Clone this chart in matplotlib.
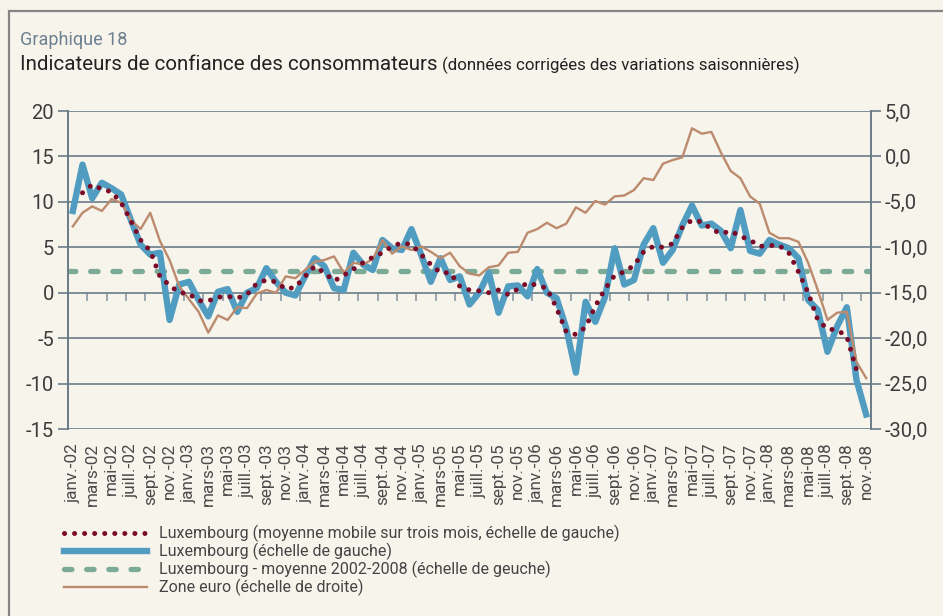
import numpy as np
import matplotlib
matplotlib.use("Agg")
import matplotlib.pyplot as plt
from matplotlib.patches import Rectangle

plt.rcParams['font.family'] = ['Roboto', 'DejaVu Sans']

# --- data -------------------------------------------------------------
mois = ['janv.', 'févr.', 'mars', 'avr.', 'mai', 'juin', 'juill.', 'août',
        'sept.', 'oct.', 'nov.', 'déc.']
annees = ['02', '03', '04', '05', '06', '07', '08']
dates = [f'{m}-{a}' for a in annees for m in mois][:83]

# Luxembourg, échelle de gauche
lux = [9.0, 14.1, 10.4, 12.1, 11.5, 10.8, 8.0, 5.3, 4.2, 4.4,
       -3.0, 0.9, 1.2, -0.8, -2.6, 0.1, 0.4, -2.1, 0.0, 0.5,
       2.7, 1.2, 0.0, -0.3, 1.8, 3.8, 2.9, 0.5, 0.3, 4.4,
       3.1, 2.5, 5.8, 4.9, 4.7, 7.0, 4.2, 1.2, 3.8, 1.4,
       1.8, -1.3, 0.0, 2.2, -2.2, 0.7, 0.8, -0.4, 2.6, 0.0,
       -0.6, -3.9, -8.8, -1.0, -3.2, -0.5, 4.9, 0.9, 1.4, 5.3,
       7.1, 3.3, 4.7, 7.4, 9.6, 7.4, 7.6, 6.8, 4.9, 9.1,
       4.6, 4.3, 5.8, 5.3, 4.9, 3.8, -0.8, -1.9, -6.5, -3.7,
       -1.6, -9.6, -13.4]

# Luxembourg, moyenne mobile sur trois mois
lux_mm = [np.nan, 11.0, 11.9, 11.4, 11.1, 9.9, 7.9, 5.8, 4.6, 1.8,
          0.8, 0.0, -0.1, -0.9, -0.9, -0.5, -0.4, -0.6, -0.2, 1.0,
          1.4, 1.2, 0.4, 0.6, 1.8, 2.9, 2.2, 1.3, 1.9, 2.6,
          3.3, 3.9, 4.4, 5.1, 5.5, 5.3, 4.2, 3.1, 2.2, 2.2,
          0.7, 0.3, 0.2, 0.0, 0.3, -0.2, 0.4, 1.1, 0.8, 0.5,
          -1.7, -4.3, -4.6, -3.8, -1.5, 0.4, 1.9, 2.3, 3.0, 4.5,
          5.1, 5.0, 5.4, 7.2, 8.0, 7.8, 7.0, 6.5, 6.8, 6.2,
          5.8, 5.1, 5.2, 5.2, 4.4, 2.3, 0.0, -3.0, -4.0, -4.1,
          -4.8, -8.5, np.nan]

lux_moy = 2.4  # moyenne 2002-2008

# Zone euro, échelle de droite
euro = [-7.7, -6.2, -5.5, -6.0, -4.7, -5.1, -7.0, -8.0, -6.2, -9.3,
        -11.4, -14.3, -15.7, -17.1, -19.4, -17.5, -18.0, -16.6, -16.7, -15.1,
        -14.7, -15.0, -13.2, -13.4, -12.5, -11.6, -11.4, -11.0, -12.8, -11.7,
        -11.9, -11.3, -9.2, -10.7, -9.9, -10.3, -9.9, -10.5, -11.2, -10.6,
        -12.1, -12.9, -13.1, -12.2, -12.0, -10.6, -10.5, -8.4, -8.0, -7.3,
        -7.9, -7.4, -5.6, -6.2, -4.9, -5.3, -4.4, -4.3, -3.7, -2.4,
        -2.6, -0.8, -0.4, -0.1, 3.1, 2.5, 2.7, 0.4, -1.6, -2.4,
        -4.4, -5.2, -8.4, -9.0, -9.0, -9.4, -11.7, -14.7, -18.0, -17.2,
        -17.1, -22.6, -24.4]

ticks_gauche = [-15, -10, -5, 0, 5, 10, 15, 20]
ticks_droite = [-30, -25, -20, -15, -10, -5, 0, 5]

labels = ['Luxembourg (moyenne mobile sur trois mois, échelle de gauche)',
          'Luxembourg (échelle de gauche)',
          'Luxembourg - moyenne 2002-2008 (échelle de geuche)',
          'Zone euro (échelle de droite)']

# --- style ------------------------------------------------------------
bg = '#F7F4EC'
gridc = '#6A7B88'
c_blue = '#519DC2'
c_red = '#7A0A28'
c_green = '#7BAA96'
c_brown = '#BC8B6E'
c_text = '#3C3C3C'

W, H = 943, 616
fig = plt.figure(figsize=(W / 100, H / 100), dpi=100, facecolor=bg)

fig.patches.append(Rectangle((9 / W, -0.1), 1.2, 1 - 11 / H + 0.1,
                             transform=fig.transFigure, fill=False,
                             ec='#858585', lw=1.6))

fig.text(20 / W, 1 - 45 / H, 'Graphique 18', color='#6D8191',
         fontsize=13, va='baseline')
t = fig.text(20 / W, 1 - 70 / H, 'Indicateurs de confiance des consommateurs',
             color='#222222', fontsize=14.8, va='baseline')
fig.canvas.draw()
bb = t.get_window_extent(fig.canvas.get_renderer())
fig.text((bb.x1 + 5) / W, 1 - 70 / H,
         '(données corrigées des variations saisonnières)',
         color='#222222', fontsize=12.2, va='baseline')

x = np.arange(len(lux))

ax = fig.add_axes([68 / W, 187 / H, 803 / W, 318 / H])
ax.set_facecolor(bg)
ax.set_xlim(-0.5, 82.5)
ax.set_ylim(-15, 20)
ax2 = ax.twinx()
ax2.set_ylim(-30, 5)

ax.yaxis.grid(True, color=gridc, lw=1.2)
ax.set_axisbelow(True)

l_moy = ax.axhline(lux_moy, color=c_green, lw=3.8, ls=(0, (1.4, 2.8)),
                   dash_capstyle='round', label=labels[2])
l_lux, = ax.plot(x, lux, color=c_blue, lw=4.6, solid_joinstyle='round',
                 label=labels[1])
l_euro, = ax2.plot(x, euro, color=c_brown, lw=1.7, label=labels[3])
l_mm, = ax2.plot(x, lux_mm, color=c_red, lw=3.6, ls=(0, (0.01, 2.0)),
                 dash_capstyle='round', transform=ax.transData,
                 label=labels[0])

# y axes
ax.set_yticks(ticks_gauche)
ax.set_yticklabels([str(v) for v in ticks_gauche])
ax2.set_yticks(ticks_droite)
ax2.set_yticklabels([f'{v:.1f}'.replace('.', ',') for v in ticks_droite])
for a in (ax, ax2):
    a.tick_params(axis='y', length=7, width=1.2, color=gridc, labelsize=14.5,
                  labelcolor=c_text, pad=3)
    for s in ('top', 'bottom'):
        a.spines[s].set_visible(False)
    for s in ('left', 'right'):
        a.spines[s].set_color(gridc)
        a.spines[s].set_linewidth(1.2)

# x labels at the bottom, tick marks on the zero line
ax.set_xticks(x[::2])
ax.set_xticklabels(dates[::2], rotation=90, fontsize=12.3, color='#4A4A4A')
ax.tick_params(axis='x', length=0, pad=10)
sec = ax.secondary_xaxis(15 / 35)
sec.set_xticks(np.arange(1.5, 82, 2))
sec.set_xticklabels([])
sec.tick_params(axis='x', direction='out', length=5.5, width=1.2, color='#8A98A2')
sec.spines['bottom'].set_visible(False)

fig.legend(handles=[l_mm, l_lux, l_moy, l_euro], labels=labels,
           loc='upper left', bbox_to_anchor=(64 / W, 1 - 525 / H),
           frameon=False, fontsize=11.5, handlelength=5.2, handletextpad=0.75,
           labelspacing=0.05, borderpad=0, borderaxespad=0,
           labelcolor='#444444')

fig.savefig('out.png', dpi=100, facecolor=bg)
